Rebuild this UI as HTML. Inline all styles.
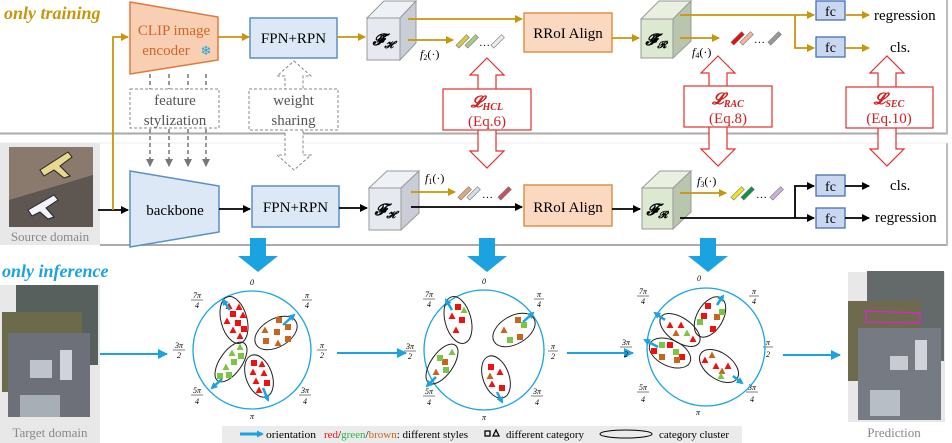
<!DOCTYPE html>
<html><head><meta charset="utf-8"><style>
body{margin:0;background:#fff}
svg{display:block;font-family:"Liberation Serif",serif}
</style></head><body>
<svg width="952" height="443" viewBox="0 0 952 443" xmlns="http://www.w3.org/2000/svg">
<defs>
<marker id="ag" markerWidth="8" markerHeight="8" refX="7" refY="4" orient="auto" markerUnits="userSpaceOnUse"><path d="M0,0L8,4L0,8z" fill="#c8960a"/></marker>
<marker id="ak" markerWidth="8" markerHeight="8" refX="7" refY="4" orient="auto" markerUnits="userSpaceOnUse"><path d="M0,0L8,4L0,8z" fill="#000"/></marker>
<marker id="ab" markerWidth="10" markerHeight="10" refX="9" refY="5" orient="auto" markerUnits="userSpaceOnUse"><path d="M0,0L10,5L0,10z" fill="#1aa3e0"/></marker>
<marker id="ad" markerWidth="8" markerHeight="8" refX="7" refY="4" orient="auto" markerUnits="userSpaceOnUse"><path d="M0,0L8,4L0,8z" fill="#777"/></marker>
<marker id="ob" markerWidth="7" markerHeight="7" refX="5" refY="3.5" orient="auto" markerUnits="userSpaceOnUse"><path d="M0,0L7,3.5L0,7z" fill="#1aa3e0"/></marker>
<g id="sq"><rect x="-3" y="-3" width="6" height="6"/></g>
<g id="tr"><path d="M0,-3.5L3.5,3L-3.5,3z"/></g>
</defs>

<rect x="0" y="0" width="947" height="133" fill="#fff"/>
<line x1="0" y1="133.5" x2="948" y2="133.5" stroke="#aaa" stroke-width="2"/>
<line x1="947" y1="0" x2="947" y2="134" stroke="#bbb" stroke-width="2"/>
<line x1="100" y1="245" x2="948" y2="245" stroke="#aaa" stroke-width="2"/>
<line x1="947" y1="143" x2="947" y2="246" stroke="#bbb" stroke-width="2"/>
<line x1="0" y1="143" x2="947" y2="143" stroke="#eee" stroke-width="1"/>

<text x="4" y="19" font-size="18" font-weight="bold" font-style="italic" fill="#c8960a">only training</text>

<path d="M130,2L218,17L218,60L130,74z" fill="#f8cfb3" stroke="#e07a3a" stroke-width="1.5"/>
<text x="174" y="35" font-size="15" fill="#d0662a" text-anchor="middle">CLIP image</text>
<text x="166" y="55" font-size="15" fill="#d0662a" text-anchor="middle">encoder</text>
<text x="206" y="55" font-size="13" fill="#1aa3e0" text-anchor="middle">❄</text>
<rect x="250" y="18" width="87" height="40" fill="#dce8f5" stroke="#5b8fc9" stroke-width="1.5"/>
<text x="293.5" y="43" font-size="15" text-anchor="middle">FPN+RPN</text>
<line x1="218" y1="37" x2="249" y2="37" stroke="#c8960a" stroke-width="1.8" marker-end="url(#ag)"/>
<line x1="337" y1="37" x2="365" y2="37" stroke="#c8960a" stroke-width="1.8" marker-end="url(#ag)"/>
<g stroke="#999" stroke-width="1">
<path d="M367,18L384,1L416,1L400,18z" fill="#eef1f5"/>
<path d="M400,18L416,1L416,43L400,60z" fill="#c9ced6"/>
<rect x="367" y="18" width="33" height="42" fill="#e6eaf0"/>
</g>
<text x="383" y="45" font-size="16" font-weight="bold" font-style="italic" text-anchor="middle">𝓕̃<tspan font-size="10" dy="3">𝓗</tspan></text>
<line x1="408" y1="19" x2="522" y2="19" stroke="#c8960a" stroke-width="1.8" marker-end="url(#ag)"/>
<line x1="408" y1="40" x2="453" y2="40" stroke="#c8960a" stroke-width="1.8" marker-end="url(#ag)"/>
<text x="420" y="58" font-size="12" font-style="italic">f<tspan font-size="8" dy="2" font-style="normal">2</tspan><tspan dy="-2" font-style="normal">(·)</tspan></text>
<g stroke="#777" stroke-width="0.6">
<rect x="461" y="34" width="4" height="15" fill="#d8c84a" transform="rotate(45 463 41)"/>
<rect x="470" y="34" width="4" height="15" fill="#a9c98a" transform="rotate(45 472 41)"/>
<rect x="496" y="34" width="4" height="15" fill="#e8ecf0" transform="rotate(45 498 41)"/>
</g>
<text x="479" y="46" font-size="11">…</text>
<rect x="524" y="13" width="88" height="39" fill="#fbd8c0" stroke="#e0904a" stroke-width="1.5"/>
<text x="568" y="38" font-size="15" text-anchor="middle">RRoI Align</text>
<line x1="612" y1="38" x2="639" y2="38" stroke="#c8960a" stroke-width="1.8" marker-end="url(#ag)"/>
<g stroke="#999" stroke-width="1">
<path d="M641,19L659,1L691,1L673,19z" fill="#e9f0df"/>
<path d="M673,19L691,1L691,41L673,58z" fill="#b9c6ad"/>
<rect x="641" y="19" width="32" height="39" fill="#dce8cf"/>
</g>
<text x="656" y="45" font-size="16" font-weight="bold" font-style="italic" text-anchor="middle">𝓕̃<tspan font-size="10" dy="3">𝓡</tspan></text>
<polyline points="680,15 795,15" fill="none" stroke="#c8960a" stroke-width="1.8"/>
<line x1="795" y1="15" x2="814" y2="15" stroke="#c8960a" stroke-width="1.8" marker-end="url(#ag)"/>
<polyline points="795,15 795,48 814,48" fill="none" stroke="#c8960a" stroke-width="1.8" marker-end="url(#ag)"/>
<line x1="680" y1="38" x2="719" y2="38" stroke="#c8960a" stroke-width="1.8" marker-end="url(#ag)"/>
<text x="692" y="56" font-size="12" font-style="italic">f<tspan font-size="8" dy="2" font-style="normal">4</tspan><tspan dy="-2" font-style="normal">(·)</tspan></text>
<g stroke="#777" stroke-width="0.6">
<rect x="736" y="31" width="4" height="15" fill="#e01010" transform="rotate(45 738 38)"/>
<rect x="745" y="31" width="4" height="15" fill="#f0b89a" transform="rotate(45 747 38)"/>
<rect x="773" y="31" width="4" height="15" fill="#999" transform="rotate(45 775 38)"/>
</g>
<text x="754" y="43" font-size="11">…</text>
<rect x="816" y="1" width="29" height="19" fill="#c9d8f0" stroke="#4a6fb0" stroke-width="1.3"/>
<text x="830.5" y="16" font-size="14" text-anchor="middle">fc</text>
<rect x="816" y="37" width="29" height="20" fill="#c9d8f0" stroke="#4a6fb0" stroke-width="1.3"/>
<text x="830.5" y="52" font-size="14" text-anchor="middle">fc</text>
<line x1="845" y1="15" x2="869" y2="15" stroke="#c8960a" stroke-width="1.8" marker-end="url(#ag)"/>
<line x1="845" y1="48" x2="869" y2="48" stroke="#c8960a" stroke-width="1.8" marker-end="url(#ag)"/>
<text x="874" y="20" font-size="15">regression</text>
<text x="890" y="52" font-size="15">cls.</text>

<g stroke="#777" stroke-width="1.5" stroke-dasharray="4,3">
<line x1="150" y1="74" x2="150" y2="89"/><line x1="169" y1="74" x2="169" y2="89"/><line x1="188" y1="74" x2="188" y2="89"/><line x1="206" y1="74" x2="206" y2="89"/>
<line x1="150" y1="129" x2="150" y2="166" marker-end="url(#ad)"/><line x1="169" y1="129" x2="169" y2="166" marker-end="url(#ad)"/><line x1="188" y1="129" x2="188" y2="166" marker-end="url(#ad)"/><line x1="206" y1="129" x2="206" y2="166" marker-end="url(#ad)"/>
</g>
<rect x="130" y="89" width="89" height="39" fill="#fff" stroke="#888" stroke-width="1" stroke-dasharray="3,2"/>
<text x="175" y="105" font-size="15" fill="#555" text-anchor="middle">feature</text>
<text x="175" y="125" font-size="15" fill="#555" text-anchor="middle">stylization</text>
<path d="M294,61L311,76L303,76L303,155L311,155L294,170L277,155L285,155L285,76L277,76z" fill="#fff" stroke="#888" stroke-width="1" stroke-dasharray="3,2"/>
<rect x="249" y="89" width="89" height="41" fill="#fff" stroke="#888" stroke-width="1" stroke-dasharray="3,2"/>
<text x="293.5" y="105" font-size="15" fill="#555" text-anchor="middle">weight</text>
<text x="293.5" y="125" font-size="15" fill="#555" text-anchor="middle">sharing</text>

<g fill="#fff" stroke="#e03030" stroke-width="1.2">
<path d="M487,58L504,75L496,75L496,151L504,151L487,168L470,151L478,151L478,75L470,75z"/>
<rect x="443" y="89" width="88" height="41"/>
<path d="M718,56L735,73L727,73L727,149L735,149L718,166L701,149L709,149L709,73L701,73z"/>
<rect x="684" y="86" width="88" height="41"/>
<path d="M887,56L904,73L896,73L896,149L904,149L887,166L870,149L878,149L878,73L870,73z"/>
<rect x="846" y="87" width="87" height="41"/>
</g>
<g fill="#d02020" text-anchor="middle">
<text x="487" y="107" font-size="16" font-weight="bold" font-style="italic">𝓛<tspan font-size="10" dy="3">HCL</tspan></text>
<text x="487" y="126" font-size="15">(Eq.6)</text>
<text x="728" y="104" font-size="16" font-weight="bold" font-style="italic">𝓛<tspan font-size="10" dy="3">RAC</tspan></text>
<text x="728" y="123" font-size="15">(Eq.8)</text>
<text x="889" y="104" font-size="16" font-weight="bold" font-style="italic">𝓛<tspan font-size="10" dy="3">SEC</tspan></text>
<text x="889" y="123" font-size="15">(Eq.10)</text>
</g>

<rect x="0" y="143" width="100" height="102" fill="#e8e8e8"/>
<rect x="9" y="147" width="84" height="80" fill="#5e5650"/>
<path d="M9,147L93,147L93,175L9,200z" fill="#8a7a6e"/>
<path d="M40,170L68,152L72,157L60,166L70,176L64,178L54,170L44,176z" fill="#e8d890" stroke="#222" stroke-width="1"/>
<path d="M28,210L54,195L58,200L46,208L54,217L48,219L40,212L32,216z" fill="#f4f4f8" stroke="#223" stroke-width="1"/>
<text x="50" y="241" font-size="13" fill="#888" text-anchor="middle">Source domain</text>

<line x1="98" y1="210" x2="128" y2="210" stroke="#000" stroke-width="1.8" marker-end="url(#ak)"/>
<polyline points="113,210 113,37 128,37" fill="none" stroke="#c8960a" stroke-width="1.8" marker-end="url(#ag)"/>

<path d="M130,171L219,186L219,232L130,247z" fill="#dce8f5" stroke="#5b8fc9" stroke-width="1.5"/>
<text x="175" y="215" font-size="15" text-anchor="middle">backbone</text>
<line x1="219" y1="209" x2="250" y2="209" stroke="#000" stroke-width="1.8" marker-end="url(#ak)"/>
<rect x="252" y="186" width="87" height="41" fill="#dce8f5" stroke="#5b8fc9" stroke-width="1.5"/>
<text x="295.5" y="212" font-size="15" text-anchor="middle">FPN+RPN</text>
<line x1="339" y1="208" x2="367" y2="208" stroke="#000" stroke-width="1.8" marker-end="url(#ak)"/>
<g stroke="#999" stroke-width="1">
<path d="M369,188L387,171L419,171L401,188z" fill="#eef1f5"/>
<path d="M401,188L419,171L419,213L401,230z" fill="#c9ced6"/>
<rect x="369" y="188" width="32" height="42" fill="#e6eaf0"/>
</g>
<text x="385" y="215" font-size="16" font-weight="bold" font-style="italic" text-anchor="middle">𝓕<tspan font-size="10" dy="3">𝓗</tspan></text>
<line x1="411" y1="192" x2="455" y2="192" stroke="#c8960a" stroke-width="1.8" marker-end="url(#ag)"/>
<text x="425" y="182" font-size="12" font-style="italic">f<tspan font-size="8" dy="2" font-style="normal">1</tspan><tspan dy="-2" font-style="normal">(·)</tspan></text>
<g stroke="#777" stroke-width="0.6">
<rect x="463" y="186" width="4" height="15" fill="#e0a878" transform="rotate(45 465 193)"/>
<rect x="472" y="186" width="4" height="15" fill="#d8dce4" transform="rotate(45 474 193)"/>
<rect x="503" y="186" width="4" height="15" fill="#c85060" transform="rotate(45 505 193)"/>
</g>
<text x="482" y="198" font-size="11">…</text>
<line x1="411" y1="207" x2="522" y2="207" stroke="#000" stroke-width="1.8" marker-end="url(#ak)"/>
<rect x="524" y="185" width="88" height="41" fill="#fbd8c0" stroke="#e0904a" stroke-width="1.5"/>
<text x="568" y="212" font-size="15" text-anchor="middle">RRoI Align</text>
<line x1="612" y1="209" x2="640" y2="209" stroke="#000" stroke-width="1.8" marker-end="url(#ak)"/>
<g stroke="#999" stroke-width="1">
<path d="M642,188L660,171L691,171L673,188z" fill="#e9f0df"/>
<path d="M673,188L691,171L691,212L673,229z" fill="#b9c6ad"/>
<rect x="642" y="188" width="31" height="41" fill="#dce8cf"/>
</g>
<text x="657" y="215" font-size="16" font-weight="bold" font-style="italic" text-anchor="middle">𝓕<tspan font-size="10" dy="3">𝓡</tspan></text>
<line x1="680" y1="193" x2="726" y2="193" stroke="#c8960a" stroke-width="1.8" marker-end="url(#ag)"/>
<text x="697" y="185" font-size="12" font-style="italic">f<tspan font-size="8" dy="2" font-style="normal">3</tspan><tspan dy="-2" font-style="normal">(·)</tspan></text>
<g stroke="#777" stroke-width="0.6">
<rect x="736" y="186" width="4" height="15" fill="#e8e820" transform="rotate(45 738 193)"/>
<rect x="746" y="186" width="4" height="15" fill="#109040" transform="rotate(45 748 193)"/>
<rect x="775" y="186" width="4" height="15" fill="#c8b0e0" transform="rotate(45 777 193)"/>
</g>
<text x="756" y="198" font-size="11">…</text>
<polyline points="680,218 795,218" fill="none" stroke="#000" stroke-width="1.8"/>
<line x1="795" y1="218" x2="814" y2="218" stroke="#000" stroke-width="1.8" marker-end="url(#ak)"/>
<polyline points="795,218 795,186 814,186" fill="none" stroke="#000" stroke-width="1.8" marker-end="url(#ak)"/>
<rect x="816" y="175" width="29" height="21" fill="#c9d8f0" stroke="#4a6fb0" stroke-width="1.3"/>
<text x="830.5" y="191" font-size="14" text-anchor="middle">fc</text>
<rect x="816" y="208" width="29" height="20" fill="#c9d8f0" stroke="#4a6fb0" stroke-width="1.3"/>
<text x="830.5" y="223" font-size="14" text-anchor="middle">fc</text>
<line x1="845" y1="186" x2="869" y2="186" stroke="#000" stroke-width="1.8" marker-end="url(#ak)"/>
<line x1="845" y1="218" x2="869" y2="218" stroke="#000" stroke-width="1.8" marker-end="url(#ak)"/>
<text x="890" y="190" font-size="15">cls.</text>
<text x="875" y="222" font-size="15">regression</text>

<g fill="#1aa3e0">
<path d="M250,238L266,238L266,256L278,256L258,272L238,256L250,256z"/>
<path d="M479,238L495,238L495,256L507,256L487,272L467,256L479,256z"/>
<path d="M700,238L716,238L716,256L728,256L708,272L688,256L700,256z"/>
</g>
<text x="2" y="277" font-size="18" font-weight="bold" font-style="italic" fill="#1aa3e0">only inference</text>

<rect x="0" y="285" width="100" height="158" fill="#e8e8e8"/>
<rect x="16" y="285" width="82" height="80" fill="#58605e"/>
<rect x="2" y="312" width="80" height="80" fill="#6b6a4a"/>
<rect x="8" y="333" width="82" height="84" fill="#6d7078"/>
<rect x="30" y="360" width="22" height="18" fill="#bfc4cc"/>
<rect x="60" y="350" width="12" height="30" fill="#d0d4da"/>
<rect x="20" y="395" width="40" height="22" fill="#a8aeb6"/>
<text x="50" y="437" font-size="13" fill="#888" text-anchor="middle">Target domain</text>

<rect x="848" y="272" width="97" height="150" fill="#e8e8e8"/>
<rect x="867" y="271" width="77" height="90" fill="#646a6a"/>
<rect x="848" y="301" width="73" height="80" fill="#6e6a4e"/>
<rect x="858" y="328" width="83" height="92" fill="#767a82"/>
<path d="M866,311L920,313L920,323L866,322z" fill="none" stroke="#e020e0" stroke-width="1.2"/>
<rect x="890" y="356" width="18" height="14" fill="#c8ccd2"/>
<rect x="915" y="340" width="12" height="30" fill="#d0d4da"/>
<rect x="870" y="390" width="30" height="26" fill="#b8bec6"/>
<text x="894" y="437" font-size="13" fill="#888" text-anchor="middle">Prediction</text>

<g stroke="#1aa3e0" stroke-width="2">
<line x1="100" y1="354" x2="167" y2="354" marker-end="url(#ab)"/>
<line x1="337" y1="353" x2="406" y2="353" marker-end="url(#ab)"/>
<line x1="567" y1="353" x2="633" y2="353" marker-end="url(#ab)"/>
<line x1="783" y1="355" x2="840" y2="355" marker-end="url(#ab)"/>
</g>

<g font-size="8" text-anchor="middle" font-style="italic">
<text x="252" y="285">0</text><text x="252" y="419">π</text>
<text x="197" y="298">7π</text><line x1="191" y1="300" x2="203" y2="300" stroke="#000" stroke-width=".5"/><text x="197" y="308">4</text>
<text x="307" y="298">π</text><line x1="302" y1="300" x2="312" y2="300" stroke="#000" stroke-width=".5"/><text x="307" y="308">4</text>
<text x="179" y="348">3π</text><line x1="173" y1="350" x2="185" y2="350" stroke="#000" stroke-width=".5"/><text x="179" y="358">2</text>
<text x="322" y="348">π</text><line x1="317" y1="350" x2="327" y2="350" stroke="#000" stroke-width=".5"/><text x="322" y="358">2</text>
<text x="197" y="393">5π</text><line x1="191" y1="395" x2="203" y2="395" stroke="#000" stroke-width=".5"/><text x="197" y="404">4</text>
<text x="305" y="393">3π</text><line x1="299" y1="395" x2="311" y2="395" stroke="#000" stroke-width=".5"/><text x="305" y="404">4</text>
<text x="484" y="284">0</text><text x="484" y="420">π</text>
<text x="429" y="297">7π</text><line x1="423" y1="299" x2="435" y2="299" stroke="#000" stroke-width=".5"/><text x="429" y="307">4</text>
<text x="539" y="297">π</text><line x1="534" y1="299" x2="544" y2="299" stroke="#000" stroke-width=".5"/><text x="539" y="307">4</text>
<text x="410" y="349">3π</text><line x1="404" y1="351" x2="416" y2="351" stroke="#000" stroke-width=".5"/><text x="410" y="359">2</text>
<text x="553" y="349">π</text><line x1="548" y1="351" x2="558" y2="351" stroke="#000" stroke-width=".5"/><text x="553" y="359">2</text>
<text x="429" y="394">5π</text><line x1="423" y1="396" x2="435" y2="396" stroke="#000" stroke-width=".5"/><text x="429" y="405">4</text>
<text x="537" y="394">3π</text><line x1="531" y1="396" x2="543" y2="396" stroke="#000" stroke-width=".5"/><text x="537" y="405">4</text>
<text x="699" y="281">0</text><text x="698" y="415">π</text>
<text x="643" y="294">7π</text><line x1="637" y1="296" x2="649" y2="296" stroke="#000" stroke-width=".5"/><text x="643" y="304">4</text>
<text x="754" y="294">π</text><line x1="749" y1="296" x2="759" y2="296" stroke="#000" stroke-width=".5"/><text x="754" y="304">4</text>
<text x="626" y="345">3π</text><line x1="620" y1="347" x2="632" y2="347" stroke="#000" stroke-width=".5"/><text x="626" y="357">2</text>
<text x="768" y="345">π</text><line x1="763" y1="347" x2="773" y2="347" stroke="#000" stroke-width=".5"/><text x="768" y="357">2</text>
<text x="643" y="390">5π</text><line x1="637" y1="392" x2="649" y2="392" stroke="#000" stroke-width=".5"/><text x="643" y="402">4</text>
<text x="752" y="390">3π</text><line x1="746" y1="392" x2="758" y2="392" stroke="#000" stroke-width=".5"/><text x="752" y="402">4</text>
</g>

<g fill="none" stroke="#1aa3e0" stroke-width="1.3">
<circle cx="252" cy="350" r="59"/>
<circle cx="484" cy="350" r="60"/>
<circle cx="706" cy="347" r="59"/>
</g>
<g fill="none" stroke="#222" stroke-width="1">
<ellipse cx="234" cy="320" rx="13" ry="24" transform="rotate(-15 234 320)"/>
<ellipse cx="276" cy="333" rx="23" ry="14" transform="rotate(-30 276 333)"/>
<ellipse cx="231" cy="362" rx="11" ry="23" transform="rotate(35 231 362)"/>
<ellipse cx="259" cy="376" rx="13" ry="22" transform="rotate(-20 259 376)"/>
<ellipse cx="458" cy="320" rx="13" ry="24" transform="rotate(-15 458 320)"/>
<ellipse cx="514" cy="330" rx="23" ry="14" transform="rotate(-30 514 330)"/>
<ellipse cx="442" cy="364" rx="11" ry="23" transform="rotate(35 442 364)"/>
<ellipse cx="496" cy="377" rx="13" ry="22" transform="rotate(-20 496 377)"/>
<ellipse cx="710" cy="317" rx="13" ry="22" transform="rotate(30 710 317)"/>
<ellipse cx="680" cy="330" rx="23" ry="12" transform="rotate(35 680 330)"/>
<ellipse cx="670" cy="353" rx="22" ry="13" transform="rotate(25 670 353)"/>
<ellipse cx="719" cy="366" rx="22" ry="13" transform="rotate(35 719 366)"/>
</g>
<g fill="#ee1111">
<use href="#tr" x="229" y="306"/><use href="#tr" x="239" y="307"/><use href="#sq" x="233" y="314"/><use href="#tr" x="243" y="315"/><use href="#tr" x="227" y="321"/><use href="#sq" x="238" y="323"/><use href="#tr" x="233" y="330"/><use href="#sq" x="244" y="329"/><use href="#tr" x="240" y="336"/>
<use href="#sq" x="254" y="363"/><use href="#tr" x="262" y="364"/><use href="#tr" x="253" y="372"/><use href="#tr" x="264" y="373"/><use href="#tr" x="256" y="381"/><use href="#sq" x="267" y="383"/><use href="#tr" x="259" y="390"/>
<use href="#sq" x="458" y="307"/><use href="#tr" x="452" y="316"/><use href="#sq" x="462" y="320"/><use href="#tr" x="456" y="330"/>
<use href="#sq" x="491" y="367"/><use href="#tr" x="500" y="372"/><use href="#tr" x="492" y="384"/><use href="#sq" x="502" y="388"/>
<use href="#sq" x="708" y="306"/><use href="#sq" x="704" y="316"/><use href="#sq" x="713" y="329"/>
<use href="#tr" x="670" y="325"/><use href="#tr" x="681" y="325"/><use href="#tr" x="693" y="339"/>
<use href="#sq" x="654" y="351"/><use href="#sq" x="670" y="345"/><use href="#sq" x="682" y="357"/>
<use href="#tr" x="705" y="360"/><use href="#tr" x="728" y="366"/><use href="#tr" x="716" y="366"/>
</g>
<g fill="#c8641e">
<use href="#sq" x="279" y="320"/><use href="#tr" x="265" y="330"/><use href="#sq" x="277" y="332"/><use href="#sq" x="288" y="327"/><use href="#sq" x="266" y="341"/><use href="#tr" x="278" y="343"/><use href="#sq" x="288" y="339"/>
<use href="#sq" x="518" y="320"/><use href="#tr" x="504" y="330"/><use href="#sq" x="520" y="337"/>
<use href="#sq" x="445" y="362"/><use href="#tr" x="436" y="372"/>
<use href="#tr" x="490" y="376"/>
<use href="#sq" x="717" y="317"/><use href="#tr" x="676" y="333"/><use href="#sq" x="662" y="357"/><use href="#sq" x="677" y="360"/><use href="#tr" x="712" y="355"/><use href="#tr" x="722" y="371"/>
</g>
<g fill="#7cc444">
<use href="#tr" x="240" y="347"/><use href="#sq" x="241" y="356"/><use href="#tr" x="232" y="353"/><use href="#sq" x="234" y="362"/><use href="#tr" x="226" y="367"/><use href="#sq" x="229" y="375"/><use href="#sq" x="220" y="376"/>
<use href="#sq" x="524" y="325"/><use href="#sq" x="510" y="340"/><use href="#tr" x="452" y="352"/><use href="#sq" x="440" y="358"/><use href="#sq" x="446" y="370"/><use href="#tr" x="464" y="310"/>
<use href="#sq" x="722" y="312"/><use href="#sq" x="700" y="322"/><use href="#tr" x="687" y="333"/><use href="#sq" x="662" y="345"/><use href="#sq" x="676" y="352"/><use href="#tr" x="721" y="376"/>
</g>
<g stroke="#1aa3e0" stroke-width="2.5" marker-end="url(#ob)">
<line x1="230" y1="310" x2="223" y2="300"/>
<line x1="283" y1="325" x2="294" y2="315"/>
<line x1="222" y1="379" x2="212" y2="388"/>
<line x1="263" y1="388" x2="268" y2="400"/>
<line x1="452" y1="310" x2="446" y2="300"/>
<line x1="523" y1="322" x2="533" y2="313"/>
<line x1="436" y1="377" x2="427" y2="386"/>
<line x1="497" y1="392" x2="502" y2="402"/>
<line x1="717" y1="305" x2="723" y2="296"/>
<line x1="665" y1="320" x2="655" y2="313"/>
<line x1="658" y1="347" x2="645" y2="340"/>
<line x1="733" y1="376" x2="742" y2="383"/>
</g>

<rect x="222" y="426" width="520" height="17" fill="#ebebeb"/>
<line x1="240" y1="434" x2="262" y2="434" stroke="#1aa3e0" stroke-width="3" marker-end="url(#ob)"/>
<g font-size="11">
<text x="266" y="438" textLength="50" lengthAdjust="spacingAndGlyphs">orientation</text>
<text x="324" y="438" textLength="144" lengthAdjust="spacingAndGlyphs"><tspan fill="#ee1111">red</tspan>/<tspan fill="#2cb24c">green</tspan>/<tspan fill="#c8641e">brown</tspan>: different styles</text>
<rect x="485" y="431" width="5" height="5" fill="none" stroke="#000" stroke-width="1.3"/>
<path d="M493,436L496,430L499,436z" fill="none" stroke="#000" stroke-width="1.3"/>
<text x="506" y="438" textLength="78" lengthAdjust="spacingAndGlyphs">different category</text>
<ellipse cx="626" cy="434" rx="26" ry="4" fill="none" stroke="#000" stroke-width="1"/>
<text x="659" y="438" textLength="70" lengthAdjust="spacingAndGlyphs">category cluster</text>
</g>
</svg>
</body></html>
